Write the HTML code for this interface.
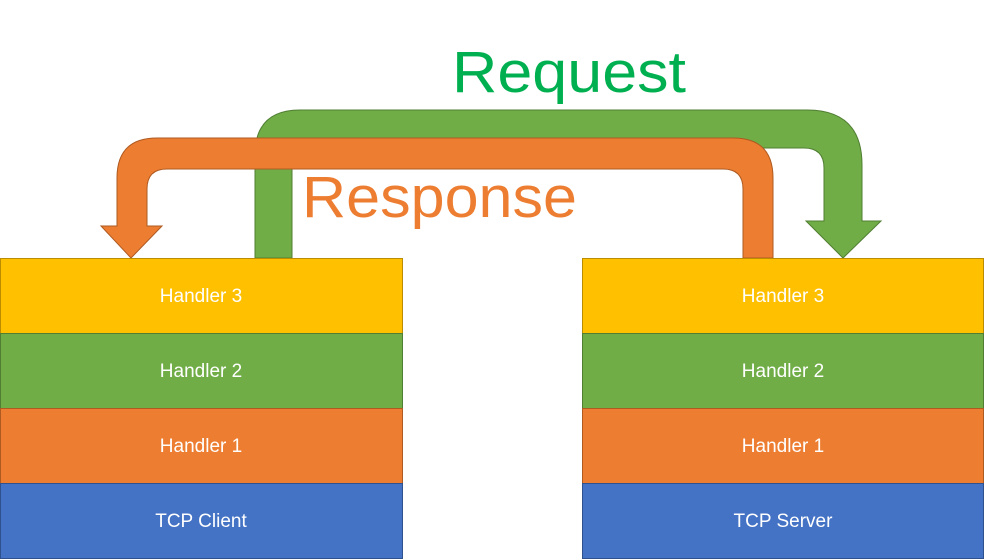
<!DOCTYPE html>
<html><head><style>
body{margin:0;width:984px;height:559px;background:#fff;overflow:hidden}
svg{display:block}
</style></head><body>
<svg width="984" height="559" viewBox="0 0 984 559" xmlns="http://www.w3.org/2000/svg" font-family="Liberation Sans, sans-serif">
<!-- green request arrow -->
<path d="M255 258 V155 Q255 110 300 110 H807 Q862 110 862 165 V221 H881 L843 258 L806 221 H824 V168 Q824 148 804 148 H312 Q292 148 292 168 V258 Z" fill="#70AD47" stroke="#507E32" stroke-width="1"/>
<!-- orange response arrow -->
<path d="M773 258 V178 Q773 138 733 138 H157 Q117 138 117 178 V226 H101 L131 258 L162 226 H147 V189 Q147 169 167 169 H723 Q743 169 743 189 V258 Z" fill="#ED7D31" stroke="#AE5A21" stroke-width="1"/>
<text x="452" y="92" font-size="58" fill="#00B050" textLength="234" lengthAdjust="spacingAndGlyphs">Request</text>
<text x="302" y="217" font-size="58" fill="#ED7D31" textLength="275" lengthAdjust="spacingAndGlyphs">Response</text>
<g stroke-width="1">
<rect x="0.5" y="258.5" width="402" height="75" fill="#FFC000" stroke="#BC8C00"/>
<rect x="0.5" y="333.5" width="402" height="75" fill="#70AD47" stroke="#507E32"/>
<rect x="0.5" y="408.5" width="402" height="75" fill="#ED7D31" stroke="#AE5A21"/>
<rect x="0.5" y="483.5" width="402" height="75" fill="#4472C4" stroke="#2F528F"/>
<rect x="582.5" y="258.5" width="401" height="75" fill="#FFC000" stroke="#BC8C00"/>
<rect x="582.5" y="333.5" width="401" height="75" fill="#70AD47" stroke="#507E32"/>
<rect x="582.5" y="408.5" width="401" height="75" fill="#ED7D31" stroke="#AE5A21"/>
<rect x="582.5" y="483.5" width="401" height="75" fill="#4472C4" stroke="#2F528F"/>
</g>
<g fill="#fff" font-size="19" text-anchor="middle">
<text x="201" y="302">Handler 3</text>
<text x="201" y="377">Handler 2</text>
<text x="201" y="452">Handler 1</text>
<text x="201" y="527">TCP Client</text>
<text x="783" y="302">Handler 3</text>
<text x="783" y="377">Handler 2</text>
<text x="783" y="452">Handler 1</text>
<text x="783" y="527">TCP Server</text>
</g>
</svg>
</body></html>
